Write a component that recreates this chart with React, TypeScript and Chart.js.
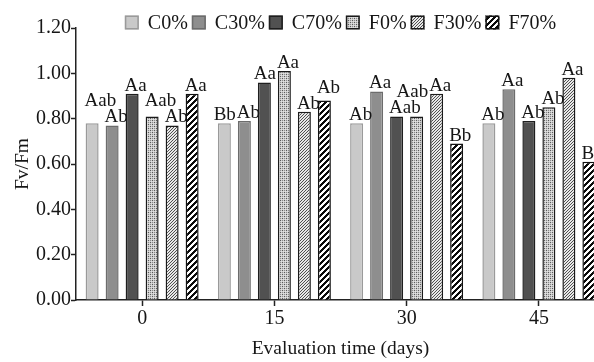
import { useEffect, useRef } from "react";
import { Chart, registerables } from "chart.js";

Chart.register(...registerables);

const categories = ["0", "15", "30", "45"];
const seriesNames = ["C0%", "C30%", "C70%", "F0%", "F30%", "F70%"];

const c0Values = [0.78, 0.78, 0.78, 0.78];
const c30Values = [0.77, 0.79, 0.92, 0.93];
const c70Values = [0.91, 0.96, 0.81, 0.79];
const f0Values = [0.81, 1.01, 0.81, 0.85];
const f30Values = [0.77, 0.83, 0.91, 0.98];
const f70Values = [0.91, 0.88, 0.69, 0.61];

const c0Letters = ["Aab", "Bb", "Ab", "Ab"];
const c30Letters = ["Ab", "Ab", "Aa", "Aa"];
const c70Letters = ["Aa", "Aa", "Aab", "Ab"];
const f0Letters = ["Aab", "Aa", "Aab", "Ab"];
const f30Letters = ["Ab", "Ab", "Aa", "Aa"];
const f70Letters = ["Aa", "Ab", "Bb", "Bb"];

const yMin = 0;
const yMax = 1.2;
const yStep = 0.2;

const xTitle = "Evaluation time (days)";
const yTitle = "Fv/Fm";

const FAMILY = '"Liberation Serif", "Times New Roman", serif';
const TICK_SIZE = 20;
const LEGEND_SIZE = 20;
const TITLE_SIZE = 19.5;
const LETTER_SIZE = 19;
const TEXT = "#161616";
const AXIS = "#222222";

function pixelPattern(n: number, paint: (x: number, y: number) => [number, number, number]) {
  const c = document.createElement("canvas");
  c.width = n;
  c.height = n;
  const g = c.getContext("2d")!;
  const img = g.createImageData(n, n);
  for (let y = 0; y < n; y++) {
    for (let x = 0; x < n; x++) {
      const [r, gg, b] = paint(x, y);
      const i = (y * n + x) * 4;
      img.data[i] = r;
      img.data[i + 1] = gg;
      img.data[i + 2] = b;
      img.data[i + 3] = 255;
    }
  }
  g.putImageData(img, 0, 0);
  return g.createPattern(c, "repeat")!;
}

function makeFills() {
  const stipple = pixelPattern(4, (x, y) => {
    if ((x === 0 && y === 0) || (x === 2 && y === 2)) return [90, 90, 90];
    if ((x === 2 && y === 0) || (x === 0 && y === 2)) return [140, 140, 140];
    if ((x + y) % 2 === 1) return [205, 205, 205];
    return [225, 225, 225];
  });
  const fineHatch = pixelPattern(3, (x, y) => ((x + y) % 3 === 0 ? [80, 80, 80] : [232, 232, 232]));
  const boldHatch = pixelPattern(6, (x, y) => ((x + y) % 6 < 3 ? [10, 10, 10] : [255, 255, 255]));
  return {
    fills: ["#c9c9c9", "#8e8e8e", "#515151", stipple, fineHatch, boldHatch] as any[],
    borders: ["#9a9a9a", "#6c6c6c", "#1e1e1e", "#1a1a1a", "#1a1a1a", "#111111"],
  };
}

const seriesValues = [c0Values, c30Values, c70Values, f0Values, f30Values, f70Values];
const seriesLetters = [c0Letters, c30Letters, c70Letters, f0Letters, f30Letters, f70Letters];

const legendPlugin = {
  id: "customLegend",
  afterDraw(chart: any) {
    const { ctx, chartArea } = chart;
    ctx.save();
    ctx.font = `${LEGEND_SIZE}px ${FAMILY}`;
    const box = 14;
    const gapText = 9;
    const gapItem = 4;
    const items = chart.data.datasets.map((ds: any) => ({
      text: ds.label,
      fill: ds.backgroundColor,
      border: ds.borderColor,
      w: ctx.measureText(ds.label).width,
    }));
    const total =
      items.reduce((s: number, it: any) => s + box + gapText + it.w, 0) + gapItem * (items.length - 1);
    let x = (chartArea.left + chartArea.right) / 2 - total / 2;
    const cy = 22.5;
    for (const it of items) {
      ctx.fillStyle = it.fill;
      ctx.fillRect(x, cy - box / 2, box, box);
      ctx.strokeStyle = it.border;
      ctx.lineWidth = 1.5;
      ctx.strokeRect(x + 0.75, cy - box / 2 + 0.75, box - 1.5, box - 1.5);
      ctx.fillStyle = TEXT;
      ctx.textAlign = "left";
      ctx.textBaseline = "middle";
      ctx.fillText(it.text, x + box + gapText, cy + 1);
      x += box + gapText + it.w + gapItem;
    }
    ctx.restore();
  },
};

const lettersPlugin = {
  id: "letters",
  afterDatasetsDraw(chart: any) {
    const ctx = chart.ctx;
    ctx.save();
    ctx.font = `${LETTER_SIZE}px ${FAMILY}`;
    ctx.fillStyle = TEXT;
    ctx.textAlign = "left";
    ctx.textBaseline = "alphabetic";
    const CAP = 13;
    const overlap = (a: any, b: any, tol: number) =>
      a.left + a.w - b.left > tol && a.base > b.base - CAP && b.base > a.base - CAP;
    for (let i = 0; i < categories.length; i++) {
      const boxes = seriesLetters.map((letters, d) => {
        const bar = chart.getDatasetMeta(d).data[i];
        const { x, y, width } = bar.getProps(["x", "y", "width"], true);
        const text = letters[i];
        return { text, left: x - width / 2 - 1, w: ctx.measureText(text).width, base: y - 3, barY: y, moved: false };
      });
      for (let k = 0; k < boxes.length - 1; k++) {
        const a = boxes[k];
        const b = boxes[k + 1];
        if (a.moved || b.moved) continue;
        if (overlap(a, b, 3)) {
          if (a.barY < b.barY) {
            a.base = b.base - CAP - 3;
            a.moved = true;
          } else {
            b.base = a.base - CAP - 3;
            b.moved = true;
          }
        }
      }
      for (let k = 0; k < boxes.length - 1; k++) {
        const a = boxes[k];
        const b = boxes[k + 1];
        if (overlap(a, b, 0)) a.left = b.left - 1 - a.w;
      }
      for (const b of boxes) ctx.fillText(b.text, b.left, b.base);
    }
    ctx.restore();
  },
};

export default function App() {
  const ref = useRef<HTMLCanvasElement | null>(null);

  useEffect(() => {
    if (!ref.current) return;
    const { fills, borders } = makeFills();
    const chart = new Chart(ref.current, {
      type: "bar",
      data: {
        labels: categories,
        datasets: seriesNames.map((name, d) => ({
          label: name,
          data: seriesValues[d],
          backgroundColor: fills[d],
          borderColor: borders[d],
          borderWidth: 1.5,
          categoryPercentage: 0.9074,
          barPercentage: 0.65,
        })),
      },
      options: {
        responsive: false,
        animation: false,
        events: [],
        layout: { padding: { top: 28, right: 77, left: 0, bottom: 0 } },
        plugins: {
          legend: { display: false },
          tooltip: { enabled: false },
        },
        scales: {
          x: {
            type: "category",
            grid: {
              display: true,
              offset: false,
              drawOnChartArea: false,
              drawTicks: true,
              tickLength: 6,
              tickWidth: 1.5,
              color: AXIS,
            },
            border: { display: true, color: AXIS, width: 1.5 },
            ticks: {
              color: TEXT,
              font: { family: FAMILY, size: TICK_SIZE },
              padding: 1,
              maxRotation: 0,
            },
            title: {
              display: true,
              text: xTitle,
              color: TEXT,
              font: { family: FAMILY, size: TITLE_SIZE },
              padding: { top: 0, bottom: 1 },
            },
            afterFit: (scale: any) => {
              scale.height = 62;
            },
          },
          y: {
            min: yMin,
            max: yMax,
            grid: {
              display: true,
              drawOnChartArea: false,
              drawTicks: true,
              tickLength: 5,
              tickWidth: 1.5,
              color: AXIS,
            },
            border: { display: true, color: AXIS, width: 1.5 },
            ticks: {
              stepSize: yStep,
              color: TEXT,
              padding: 0,
              font: { family: FAMILY, size: TICK_SIZE },
              callback: (v: any) => Number(v).toFixed(2),
            },
            title: {
              display: true,
              text: yTitle,
              color: TEXT,
              font: { family: FAMILY, size: TITLE_SIZE },
              padding: { top: 11, bottom: 0 },
            },
            afterFit: (scale: any) => {
              scale.width = 76;
            },
          },
        },
      },
      plugins: [lettersPlugin, legendPlugin],
    });
    return () => chart.destroy();
  }, []);

  return (
    <div
      style={{
        position: "fixed",
        left: 0,
        top: 0,
        width: 594,
        height: 362,
        overflow: "hidden",
        background: "#ffffff",
      }}
    >
      <canvas ref={ref} width={682} height={362} style={{ display: "block", width: 682, height: 362 }} />
    </div>
  );
}
